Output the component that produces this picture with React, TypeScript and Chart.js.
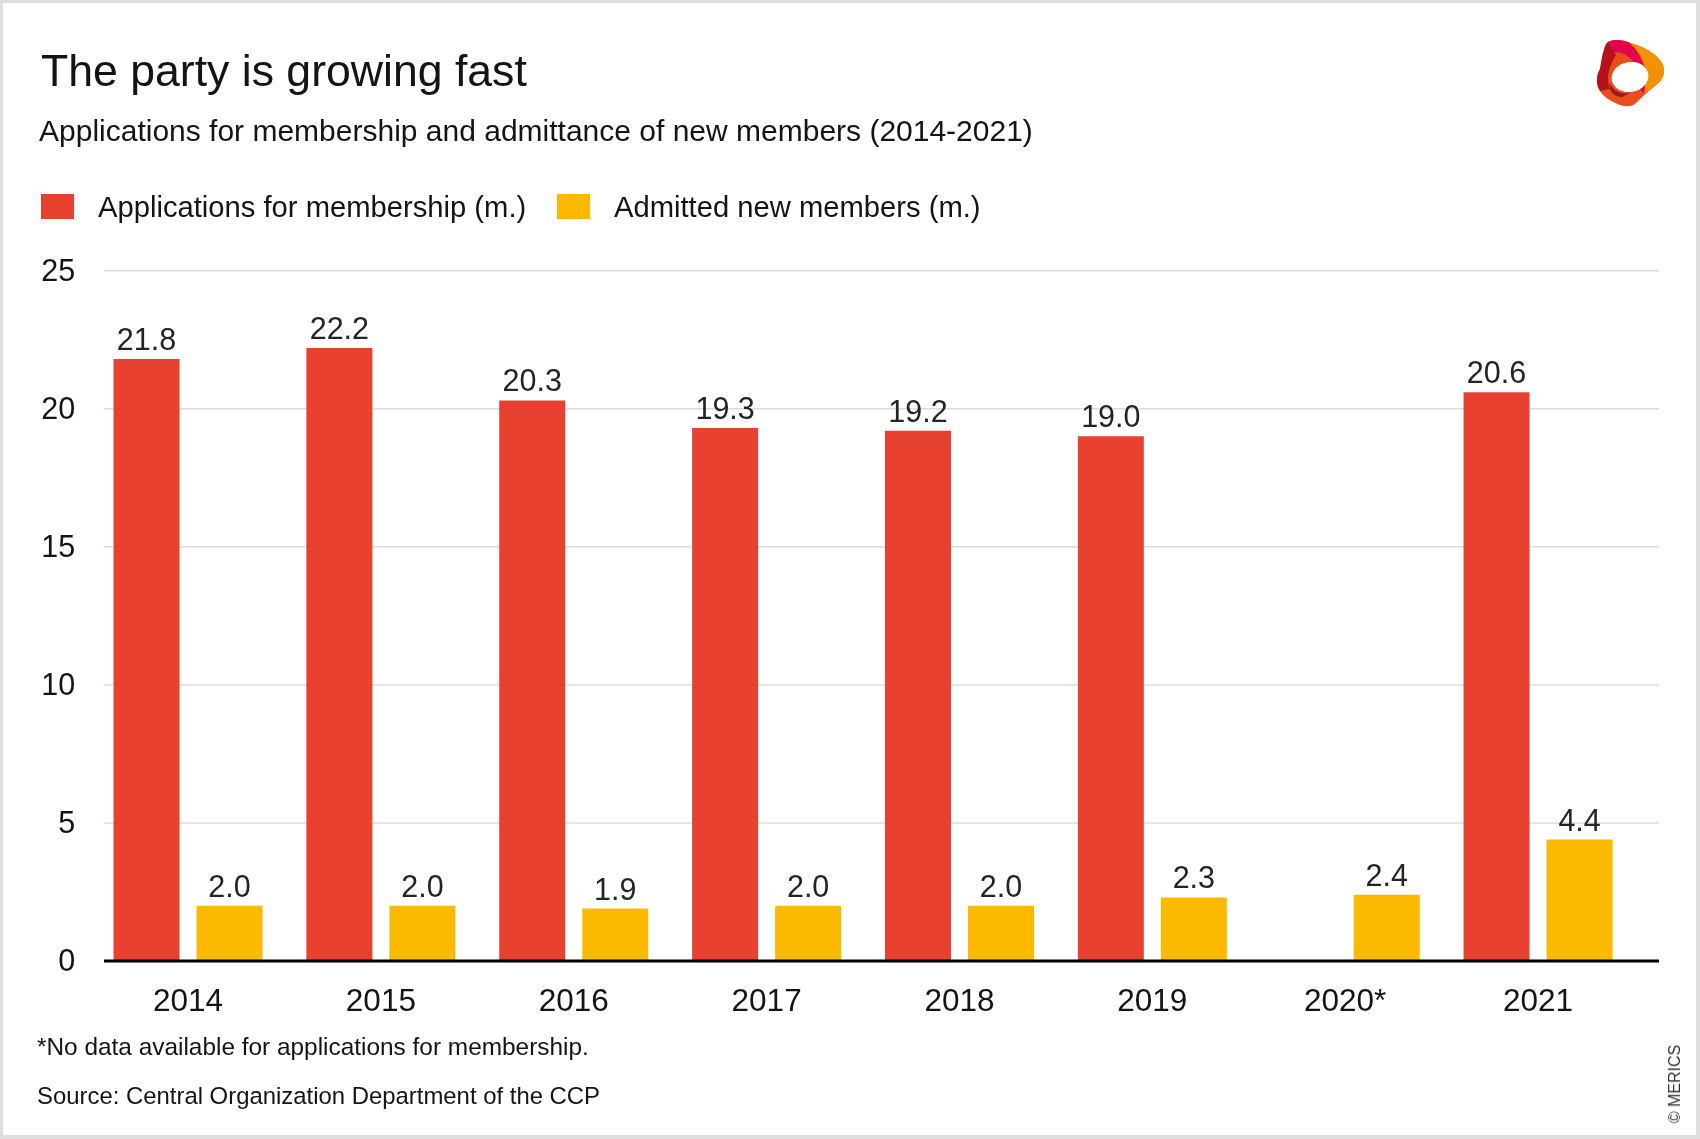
import React, { useEffect, useRef } from "react";
import { Chart, registerables } from "chart.js";

Chart.register(...registerables);

// ---- data ----
const categories = ["2014", "2015", "2016", "2017", "2018", "2019", "2020*", "2021"];
const applications: (number | null)[] = [21.8, 22.2, 20.3, 19.3, 19.2, 19.0, null, 20.6];
const admitted: number[] = [2.0, 2.0, 1.9, 2.0, 2.0, 2.3, 2.4, 4.4];
const seriesNames = ["Applications for membership (m.)", "Admitted new members (m.)"];
const yMin = 0;
const yMax = 25;
const yStep = 5;

const title = "The party is growing fast";
const subtitle = "Applications for membership and admittance of new members (2014-2021)";
const footnote = "*No data available for applications for membership.";
const source = "Source: Central Organization Department of the CCP";
const credit = "© MERICS";

// ---- style ----
const RED = "#E84130";
const YELLOW = "#FBBA00";
const FONT = "'Liberation Sans', Arial, Helvetica, sans-serif";
const TEXT = "#141414";
const GRID_LEFT = 104;
const GRID_RIGHT = 1659;

const overlayPlugin = {
  id: "overlayPlugin",
  beforeDatasetsDraw(chart: any) {
    const { ctx } = chart;
    const y = chart.scales.y;
    ctx.save();
    ctx.strokeStyle = "#dcdcdc";
    ctx.lineWidth = 1.5;
    y.ticks.forEach((t: any) => {
      if (t.value === 0) return;
      const py = y.getPixelForValue(t.value);
      ctx.beginPath();
      ctx.moveTo(GRID_LEFT, py);
      ctx.lineTo(GRID_RIGHT, py);
      ctx.stroke();
    });
    ctx.restore();
  },
  afterDatasetsDraw(chart: any) {
    const { ctx } = chart;
    const y = chart.scales.y;
    ctx.save();
    // zero axis line
    const py0 = y.getPixelForValue(0);
    ctx.strokeStyle = "#000000";
    ctx.lineWidth = 3;
    ctx.beginPath();
    ctx.moveTo(GRID_LEFT, py0);
    ctx.lineTo(GRID_RIGHT, py0);
    ctx.stroke();
    // value labels
    ctx.fillStyle = "#242424";
    ctx.font = `30.5px ${FONT}`;
    ctx.textAlign = "center";
    ctx.textBaseline = "alphabetic";
    chart.data.datasets.forEach((ds: any, i: number) => {
      const meta = chart.getDatasetMeta(i);
      meta.data.forEach((bar: any, j: number) => {
        const v = ds.data[j];
        if (v === null || v === undefined) return;
        ctx.fillText(Number(v).toFixed(1), bar.x, bar.y - 9);
      });
    });
    ctx.restore();
  },
};

function Logo() {
  return (
    <svg
      width={70}
      height={68}
      viewBox="0 0 70 68"
      style={{ position: "absolute", left: 1596, top: 39 }}
    >
      <path
        d="M12,3 C18,0 26,1 32,3 C46,7 60,14 66,24 C70,32 68,40 60,46 C54,51 48,56 40,64 C36,68 30,68 24,66 C14,62 6,57 3,50 C0,44 0,36 4,30 C6,24 6,16 8,10 C9,6 10,4 12,3 Z"
        fill="#E84E1B"
      />
      <path
        d="M32,3 C46,7 60,14 66,24 C70,32 68,40 60,46 C56,49 52,52 48,55 L50,40 C52,30 46,14 32,3 Z"
        fill="#F39200"
      />
      <path
        d="M12,3 C18,0 26,1 32,3 C44,12 52,28 48,55 L44,50 C46,34 40,20 26,14 C20,12 14,14 10,18 Z"
        fill="#E5004E"
      />
      <path
        d="M12,3 C9,6 6,16 4,30 C0,38 0,46 4,52 L14,50 C10,40 12,28 20,16 C16,10 14,6 12,3 Z"
        fill="#B5121B"
      />
      <path d="M14,44 C18,54 28,56 36,53 L26,58 C18,58 12,52 14,44 Z" fill="#9B1B1F" />
      <ellipse cx={34} cy={38} rx={18.5} ry={15} transform="rotate(-10 34 38)" fill="#ffffff" />
    </svg>
  );
}

export default function App() {
  const canvasRef = useRef<HTMLCanvasElement | null>(null);

  useEffect(() => {
    if (!canvasRef.current) return;
    const chart = new Chart(canvasRef.current, {
      type: "bar",
      data: {
        labels: categories,
        datasets: [
          {
            label: seriesNames[0],
            data: applications,
            backgroundColor: RED,
            borderWidth: 0,
            categoryPercentage: 0.861,
            barPercentage: 0.795,
          },
          {
            label: seriesNames[1],
            data: admitted,
            backgroundColor: YELLOW,
            borderWidth: 0,
            categoryPercentage: 0.861,
            barPercentage: 0.795,
          },
        ],
      },
      plugins: [overlayPlugin],
      options: {
        animation: false,
        responsive: false,
        devicePixelRatio: 1,
        layout: {
          padding: { left: 0, top: 270.7, right: 65.5, bottom: 118 },
        },
        plugins: {
          legend: { display: false },
          title: { display: false },
          tooltip: { enabled: false },
        },
        scales: {
          x: {
            grid: { display: false, drawTicks: false },
            border: { display: false },
            ticks: {
              color: TEXT,
              font: { family: FONT, size: 31.5 },
              padding: 22,
              maxRotation: 0,
              autoSkip: false,
            },
            afterFit: (scale: any) => {
              scale.height = 60;
            },
          },
          y: {
            min: yMin,
            max: yMax,
            grid: { display: false, drawTicks: false },
            border: { display: false },
            ticks: {
              stepSize: yStep,
              color: TEXT,
              font: { family: FONT, size: 30.5 },
              padding: 16.5,
              labelOffset: 2,
              callback: (v: any) => String(v),
            },
            afterFit: (scale: any) => {
              scale.width = 91.6;
            },
          },
        },
      },
    });
    return () => chart.destroy();
  }, []);

  const text = (s: string, left: number, top: number, size: number, extra: any = {}) => (
    <div
      style={{
        position: "absolute",
        left,
        top,
        fontSize: size,
        lineHeight: `${size}px`,
        fontFamily: FONT,
        color: TEXT,
        whiteSpace: "nowrap",
        ...extra,
      }}
    >
      {s}
    </div>
  );

  return (
    <div
      style={{
        position: "absolute",
        left: 0,
        top: 0,
        width: 1700,
        height: 1139,
        background: "#dedede",
        overflow: "hidden",
      }}
    >
      <div
        style={{
          position: "absolute",
          left: 3,
          top: 3,
          width: 1693,
          height: 1132,
          background: "#ffffff",
        }}
      />
      <canvas
        ref={canvasRef}
        width={1700}
        height={1139}
        style={{ position: "absolute", left: 0, top: 0, width: 1700, height: 1139 }}
      />
      {text(title, 41, 48.5, 44.6)}
      {text(subtitle, 39, 116, 30)}
      <div style={{ position: "absolute", left: 41, top: 194, width: 33, height: 25, background: RED }} />
      {text(seriesNames[0], 98, 192.5, 29.2)}
      <div style={{ position: "absolute", left: 557, top: 194, width: 33, height: 25, background: YELLOW }} />
      {text(seriesNames[1], 614, 192.5, 29.2)}
      {text(footnote, 37, 1035, 24.4)}
      {text(source, 37, 1083.5, 23.9)}
      <div
        style={{
          position: "absolute",
          left: 1675,
          top: 1084,
          transform: "translate(-50%, -50%) rotate(-90deg)",
          fontSize: 16,
          lineHeight: "16px",
          fontFamily: FONT,
          color: "#333333",
          whiteSpace: "nowrap",
        }}
      >
        {credit}
      </div>
      <Logo />
    </div>
  );
}
